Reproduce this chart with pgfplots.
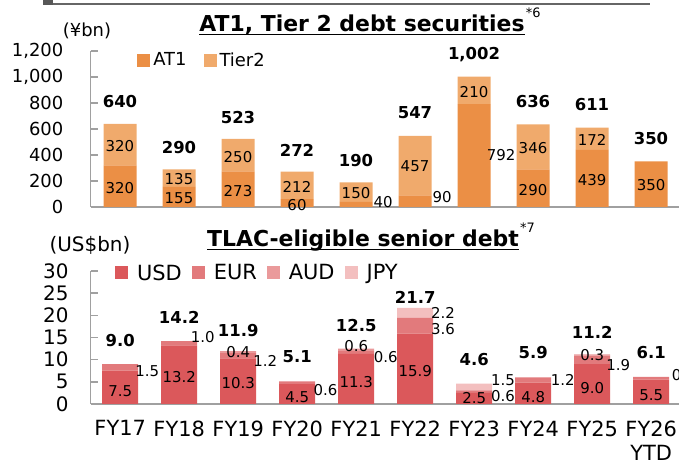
\documentclass[border=0pt]{standalone}
\usepackage{fontspec}
\setmainfont{DejaVu Sans}
\usepackage{pgfplots}
\usepackage{pgfplotstable}
\pgfplotsset{compat=1.18}
\definecolor{at1}{HTML}{EB8F45}
\definecolor{tier2}{HTML}{F0AA6C}
\definecolor{usd}{HTML}{DB585B}
\definecolor{eur}{HTML}{E27A7C}
\definecolor{aud}{HTML}{EA9A9B}
\definecolor{jpy}{HTML}{F3BFBF}
\definecolor{axgray}{HTML}{A0A0A0}
\definecolor{framegray}{HTML}{666666}

% AT1 / Tier 2 (JPY bn)
\pgfplotstableread{
x at1 t2
0 320 320
1 155 135
2 273 250
3 60  212
4 40  150
5 90  457
6 792 210
7 290 346
8 439 172
9 350 0
}\capital

% TLAC-eligible senior debt (USD bn)
\pgfplotstableread{
x usd eur aud jpy
0 7.5  1.5 0   0
1 13.2 1.0 0   0
2 10.3 1.2 0.4 0
3 4.5  0.6 0   0
4 11.3 0.6 0.6 0
5 15.9 3.6 0   2.2
6 2.5  0.6 0   1.5
7 4.8  1.2 0   0
8 9.0  1.9 0.3 0
9 5.5  0.6 0   0
}\tlac

\tikzset{
  lbl/.style={font=\fontsize{15}{17}\selectfont,inner sep=0pt},
  tot/.style={font=\fontsize{16.5}{19}\selectfont\bfseries,inner sep=0pt},
}

\pgfplotsset{
  frame/.style={scale only axis, width=590bp, xmin=-0.5, xmax=9.5, ymin=0, clip=false},
  topframe/.style={frame, at={(90.5bp,255bp)}, anchor=south west, height=156bp, ymax=1200},
  botframe/.style={frame, at={(90.7bp,58bp)}, anchor=south west, height=133bp, ymax=30},
  debtaxis/.style={
    axis x line*=bottom, axis y line*=left,
    axis line style={axgray,line width=1.5bp,-},
    ytick style={axgray,line width=1.5bp},
    tick align=inside, major tick length=7bp,
    xtick style={draw=none},
    ybar stacked,
    /pgf/number format/assume math mode=true,
    /pgf/number format/1000 sep={,},
    yticklabel style={inner sep=0pt,anchor=east},
    legend columns=-1,
    legend style={draw=none,fill=none,inner sep=0pt,anchor=west,
                  nodes={inner sep=0pt}},
    legend image code/.code={\fill[##1,draw=none] (0bp,-6.5bp) rectangle (13bp,6.5bp);},
  },
}

\begin{document}
\begin{tikzpicture}[x=1bp,y=1bp]
\useasboundingbox (0,0) rectangle (679,462);

% frame remnant at the top
\draw[framegray,line width=2bp] (43,458) -- (650,458);
\fill[framegray!85!black] (43,457) rectangle (53,462);

% ---------- upper chart ----------
\begin{axis}[topframe, debtaxis,
    ytick={0,200,...,1200},
    xtick=\empty,
    bar width=33bp,
    yticklabel style={xshift=-27bp,font=\fontsize{18}{20}\selectfont},
    legend style={at={(0.079,0.942)},font=\fontsize{18}{20}\selectfont,
      /tikz/every odd column/.append style={column sep=3bp},
      /tikz/every even column/.append style={column sep=17bp}},
  ]
  \addplot[fill=at1,draw=none] table[x=x,y=at1]{\capital};
  \addplot[fill=tier2,draw=none] table[x=x,y=t2]{\capital};
  \legend{AT1,Tier2}
\end{axis}

% labels of the upper chart, on top of the bars
\begin{axis}[topframe, hide axis]
  \node[lbl] at (axis cs:0,146) {320};
  \node[lbl] at (axis cs:0,469) {320};
  \node[lbl] at (axis cs:1,69) {155};
  \node[lbl] at (axis cs:1,215) {135};
  \node[lbl] at (axis cs:2,123) {273};
  \node[lbl] at (axis cs:2,385) {250};
  \node[lbl] at (axis cs:3,15) {60};
  \node[lbl] at (axis cs:3,154) {212};
  \node[lbl] at (axis cs:4,108) {150};
  \node[lbl] at (axis cs:4.46,38) {40};
  \node[lbl] at (axis cs:5,315) {457};
  \node[lbl] at (axis cs:5.46,77) {90};
  \node[lbl] at (axis cs:6,885) {210};
  \node[lbl] at (axis cs:6.46,400) {792};
  \node[lbl] at (axis cs:7,454) {346};
  \node[lbl] at (axis cs:7,131) {290};
  \node[lbl] at (axis cs:8,515) {172};
  \node[lbl] at (axis cs:8,208) {439};
  \node[lbl] at (axis cs:9,169) {350};

  \node[tot] at (axis cs:0,815) {640};
  \node[tot] at (axis cs:1,454) {290};
  \node[tot] at (axis cs:2,692) {523};
  \node[tot] at (axis cs:3,438) {272};
  \node[tot] at (axis cs:4,354) {190};
  \node[tot] at (axis cs:5,723) {547};
  \node[tot] at (axis cs:6,1169) {1,002};
  \node[tot] at (axis cs:7,808) {636};
  \node[tot] at (axis cs:8,785) {611};
  \node[tot] at (axis cs:9,523) {350};
\end{axis}

% ---------- lower chart ----------
\begin{axis}[botframe, debtaxis,
    ytick={0,5,...,30},
    xtick={0,...,9},
    xticklabels={FY17,FY18,FY19,FY20,FY21,FY22,FY23,FY24,FY25,{FY26\\YTD}},
    xticklabel style={align=center,inner sep=0pt,yshift=-16.5bp,
      font=\fontsize{21}{24}\selectfont},
    bar width=36bp,
    yticklabel style={xshift=-22bp,font=\fontsize{20}{22}\selectfont},
    legend style={at={(0.041,0.985)},font=\fontsize{21}{23}\selectfont,
      /tikz/every odd column/.append style={column sep=9bp},
      /tikz/every even column/.append style={column sep=10bp}},
  ]
  \addplot[fill=usd,draw=none] table[x=x,y=usd]{\tlac};
  \addplot[fill=eur,draw=none] table[x=x,y=eur]{\tlac};
  \addplot[fill=aud,draw=none] table[x=x,y=aud]{\tlac};
  \addplot[fill=jpy,draw=none] table[x=x,y=jpy]{\tlac};
  \legend{USD,EUR,AUD,JPY}
\end{axis}

% labels of the lower chart
\begin{axis}[botframe, hide axis]
  \node[lbl] at (axis cs:0,2.9) {7.5};
  \node[lbl] at (axis cs:0.46,7.4) {1.5};
  \node[lbl] at (axis cs:1,6.1) {13.2};
  \node[lbl] at (axis cs:1.4,15.1) {1.0};
  \node[lbl] at (axis cs:2,4.7) {10.3};
  \node[lbl] at (axis cs:2,11.7) {0.4};
  \node[lbl] at (axis cs:2.46,9.7) {1.2};
  \node[lbl] at (axis cs:3,1.6) {4.5};
  \node[lbl] at (axis cs:3.48,3.2) {0.6};
  \node[lbl] at (axis cs:4,5.0) {11.3};
  \node[lbl] at (axis cs:4,13.1) {0.6};
  \node[lbl] at (axis cs:4.5,10.6) {0.6};
  \node[lbl] at (axis cs:5,7.4) {15.9};
  \node[lbl] at (axis cs:5.47,16.9) {3.6};
  \node[lbl] at (axis cs:5.47,20.5) {2.2};
  \node[lbl] at (axis cs:6,1.4) {2.5};
  \node[lbl] at (axis cs:6.49,1.8) {0.6};
  \node[lbl] at (axis cs:6.49,5.4) {1.5};
  \node[lbl] at (axis cs:7,1.6) {4.8};
  \node[lbl] at (axis cs:7.5,5.4) {1.2};
  \node[lbl] at (axis cs:8,3.6) {9.0};
  \node[lbl] at (axis cs:8,11.1) {0.3};
  \node[lbl] at (axis cs:8.44,8.8) {1.9};
  \node[lbl] at (axis cs:9,2.0) {5.5};
  \node[lbl] at (axis cs:9.55,6.5) {0.6};

  \node[tot] at (axis cs:0,14.4) {9.0};
  \node[tot] at (axis cs:1,19.6) {14.2};
  \node[tot] at (axis cs:2,16.5) {11.9};
  \node[tot] at (axis cs:3,10.6) {5.1};
  \node[tot] at (axis cs:4,17.8) {12.5};
  \node[tot] at (axis cs:5,24.1) {21.7};
  \node[tot] at (axis cs:6,10.1) {4.6};
  \node[tot] at (axis cs:7,11.5) {5.9};
  \node[tot] at (axis cs:8,16.2) {11.2};
  \node[tot] at (axis cs:9,11.5) {6.1};
\end{axis}

% ---------- titles and units ----------
\node[anchor=base,inner sep=0pt,font=\fontsize{18}{20}\selectfont] at (87,425) {(¥bn)};
\node[anchor=base,inner sep=0pt,font=\fontsize{20}{22}\selectfont] at (90,210) {(US\$bn)};

\node[anchor=base,inner sep=0pt,font=\fontsize{22}{25}\selectfont\bfseries] (t1) at (362,430) {AT1, Tier 2 debt securities};
\draw[line width=1.6bp] ([yshift=-2.5bp]t1.base west) -- ([yshift=-2.5bp]t1.base east);
\node[anchor=south west,inner sep=0pt,font=\fontsize{13}{15}\selectfont] at ([xshift=1bp,yshift=-3bp]t1.north east) {*6};

\node[anchor=base,inner sep=0pt,font=\fontsize{22}{25}\selectfont\bfseries] (t2) at (363,215) {TLAC-eligible senior debt};
\draw[line width=1.6bp] ([yshift=-2.5bp]t2.base west) -- ([yshift=-2.5bp]t2.base east);
\node[anchor=south west,inner sep=0pt,font=\fontsize{13}{15}\selectfont] at ([xshift=1bp,yshift=-3bp]t2.north east) {*7};
\end{tikzpicture}
\end{document}
